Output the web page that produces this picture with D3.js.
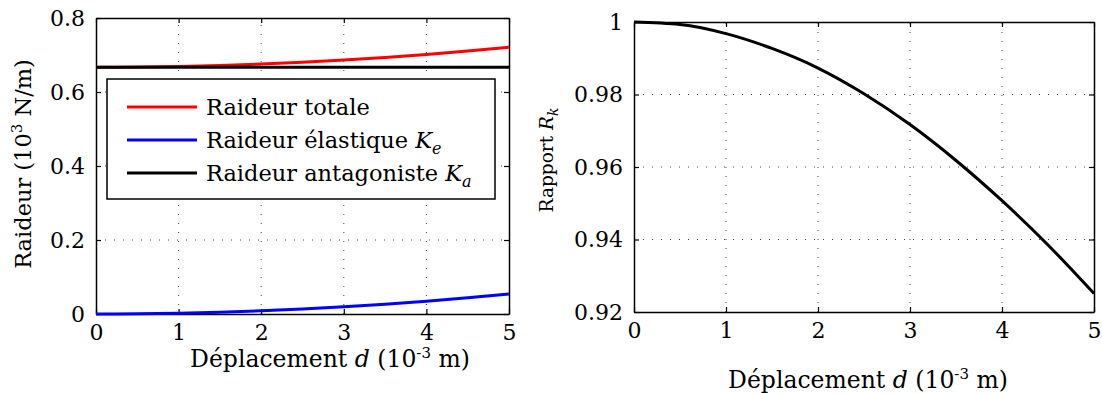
<!DOCTYPE html>
<html>
<head>
<meta charset="utf-8">
<script src="https://cdn.jsdelivr.net/npm/d3@7"></script>
<style>
  body { margin: 0; background: #fff; }
  svg { display: block; }
  text { font-family: "DejaVu Serif", serif; fill: #000; }
</style>
</head>
<body>
<div id="chart"></div>
<script>
// displacement d (10^-3 m)
var dValues = [0, 0.5, 1, 1.5, 2, 2.5, 3, 3.5, 4, 4.5, 5];
// stiffnesses (10^3 N/m)
var kElastic = [0, 0.0005, 0.0022, 0.0049, 0.0086, 0.0135, 0.0194, 0.0265, 0.0346, 0.0437, 0.054];
var kAntagonist = [0.667, 0.667, 0.667, 0.667, 0.667, 0.667, 0.667, 0.667, 0.667, 0.667, 0.667];
var kTotal = [0.667, 0.6675, 0.6692, 0.6719, 0.6756, 0.6805, 0.6864, 0.6935, 0.7016, 0.7107, 0.721];
// ratio R_k
var ratioRk = [1, 0.9993, 0.9968, 0.9927, 0.9873, 0.9802, 0.9717, 0.9618, 0.9507, 0.9385, 0.9251];

var xTicks = [0, 1, 2, 3, 4, 5];
var leftYTicks = [0, 0.2, 0.4, 0.6, 0.8];
var rightYTicks = [0.92, 0.94, 0.96, 0.98, 1];

var legendItems = [
    {label: "Raideur totale", color: "#ff0000"},
    {label: "Raideur élastique ", sym: "K", sub: "e", color: "#0000ff"},
    {label: "Raideur antagoniste ", sym: "K", sub: "a", color: "#000000"}
];

var width = 1102, height = 394;

var svg = d3.select("#chart").append("svg")
    .attr("width", width)
    .attr("height", height);

// draws one matlab-like box axis with inward ticks and dotted grid
function drawFrame(g, x, y, yTicks, yFmt) {
    var x0 = x.range()[0], x1 = x.range()[1];
    var y0 = y.range()[0], y1 = y.range()[1];

    // grid
    g.selectAll(".vgrid").data(xTicks.slice(1, -1)).enter().append("line")
        .attr("x1", function (d) { return x(d); })
        .attr("x2", function (d) { return x(d); })
        .attr("y1", y0).attr("y2", y1)
        .attr("stroke", "#444").attr("stroke-width", 1)
        .attr("stroke-dasharray", "1,8");
    g.selectAll(".hgrid").data(yTicks.slice(1, -1)).enter().append("line")
        .attr("y1", function (d) { return y(d); })
        .attr("y2", function (d) { return y(d); })
        .attr("x1", x0).attr("x2", x1)
        .attr("stroke", "#444").attr("stroke-width", 1)
        .attr("stroke-dasharray", "1,8");

    // bottom and left axes through d3, inward ticks
    var bottom = g.append("g").attr("transform", "translate(0," + y0 + ")")
        .call(d3.axisBottom(x).tickValues(xTicks).tickSizeInner(-5).tickSizeOuter(0).tickPadding(10).tickFormat(d3.format("d")));
    var left = g.append("g").attr("transform", "translate(" + x0 + ",0)")
        .call(d3.axisLeft(y).tickValues(yTicks).tickSizeInner(-5).tickSizeOuter(0).tickPadding(11).tickFormat(yFmt));
    // top and right ticks, no labels
    g.append("g").attr("transform", "translate(0," + y1 + ")")
        .call(d3.axisTop(x).tickValues(xTicks).tickSizeInner(-5).tickSizeOuter(0).tickFormat(""));
    g.append("g").attr("transform", "translate(" + x1 + ",0)")
        .call(d3.axisRight(y).tickValues(yTicks).tickSizeInner(-5).tickSizeOuter(0).tickFormat(""));

    g.selectAll(".domain").attr("stroke", "#000").attr("stroke-width", 1.5);
    g.selectAll(".tick line").attr("stroke", "#000").attr("stroke-width", 1.2);
    [bottom, left].forEach(function (a) {
        a.selectAll("text").attr("font-size", 22).attr("font-family", "DejaVu Serif").attr("fill", "#000");
    });
}

/* ---------- left panel ---------- */
var xL = d3.scaleLinear().domain([0, 5]).range([96, 509]);
var yL = d3.scaleLinear().domain([0, 0.8]).range([314, 18]);
var gL = svg.append("g");
drawFrame(gL, xL, yL, leftYTicks, function (d) { return d === 0 ? "0" : d3.format(".1f")(d); });

var lineL = function (vals) {
    return d3.line()
        .x(function (d, i) { return xL(dValues[i]); })
        .y(function (d) { return yL(d); })
        .curve(d3.curveMonotoneX)(vals);
};
[{v: kTotal, c: "#ff0000"}, {v: kElastic, c: "#0000ff"}, {v: kAntagonist, c: "#000000"}].forEach(function (s) {
    gL.append("path")
        .attr("d", lineL(s.v))
        .attr("fill", "none")
        .attr("stroke", s.c)
        .attr("stroke-width", 3);
});

// legend
var leg = gL.append("g");
leg.append("rect")
    .attr("x", 107).attr("y", 79).attr("width", 388).attr("height", 120)
    .attr("fill", "#fff").attr("stroke", "#000").attr("stroke-width", 1.5);
legendItems.forEach(function (it, i) {
    var yy = 107 + i * 33;
    leg.append("line")
        .attr("x1", 127).attr("x2", 197).attr("y1", yy).attr("y2", yy)
        .attr("stroke", it.color).attr("stroke-width", 3);
    var t = leg.append("text").attr("x", 206).attr("y", yy + 8).attr("font-size", 22.5).text(it.label);
    if (it.sym) {
        t.append("tspan").attr("font-style", "italic").text(it.sym);
        t.append("tspan").attr("font-style", "italic").attr("font-size", 16).attr("dy", 6).text(it.sub);
    }
});

// axis titles
function xTitle(g, cx, cy) {
    var t = g.append("text").attr("x", cx).attr("y", cy).attr("text-anchor", "middle").attr("font-size", 23.5);
    t.append("tspan").text("Déplacement ");
    t.append("tspan").attr("font-style", "italic").text("d");
    t.append("tspan").text(" (10");
    t.append("tspan").attr("font-size", 15).attr("dy", -9).text("-3");
    t.append("tspan").attr("dy", 9).text(" m)");
}
xTitle(gL, 330, 367);

var ytL = gL.append("text").attr("transform", "translate(31,164) rotate(-90)").attr("text-anchor", "middle").attr("font-size", 22.5);
ytL.append("tspan").text("Raideur (10");
ytL.append("tspan").attr("font-size", 15).attr("dy", -9).text("3");
ytL.append("tspan").attr("dy", 9).text(" N/m)");

/* ---------- right panel ---------- */
var xR = d3.scaleLinear().domain([0, 5]).range([634, 1094]);
var yR = d3.scaleLinear().domain([0.92, 1]).range([312, 22]);
var gR = svg.append("g");
drawFrame(gR, xR, yR, rightYTicks, function (d) { return d === 1 ? "1" : d3.format(".2f")(d); });

gR.append("path")
    .attr("d", d3.line()
        .x(function (d, i) { return xR(dValues[i]); })
        .y(function (d) { return yR(d); })
        .curve(d3.curveMonotoneX)(ratioRk))
    .attr("fill", "none")
    .attr("stroke", "#000")
    .attr("stroke-width", 3);

xTitle(gR, 868, 388);

var ytR = gR.append("text").attr("transform", "translate(553,160) rotate(-90)").attr("text-anchor", "middle").attr("font-size", 18.5);
ytR.append("tspan").text("Rapport ");
ytR.append("tspan").attr("font-style", "italic").text("R");
ytR.append("tspan").attr("font-style", "italic").attr("font-size", 14).attr("dy", 5).text("k");
</script>
</body>
</html>
